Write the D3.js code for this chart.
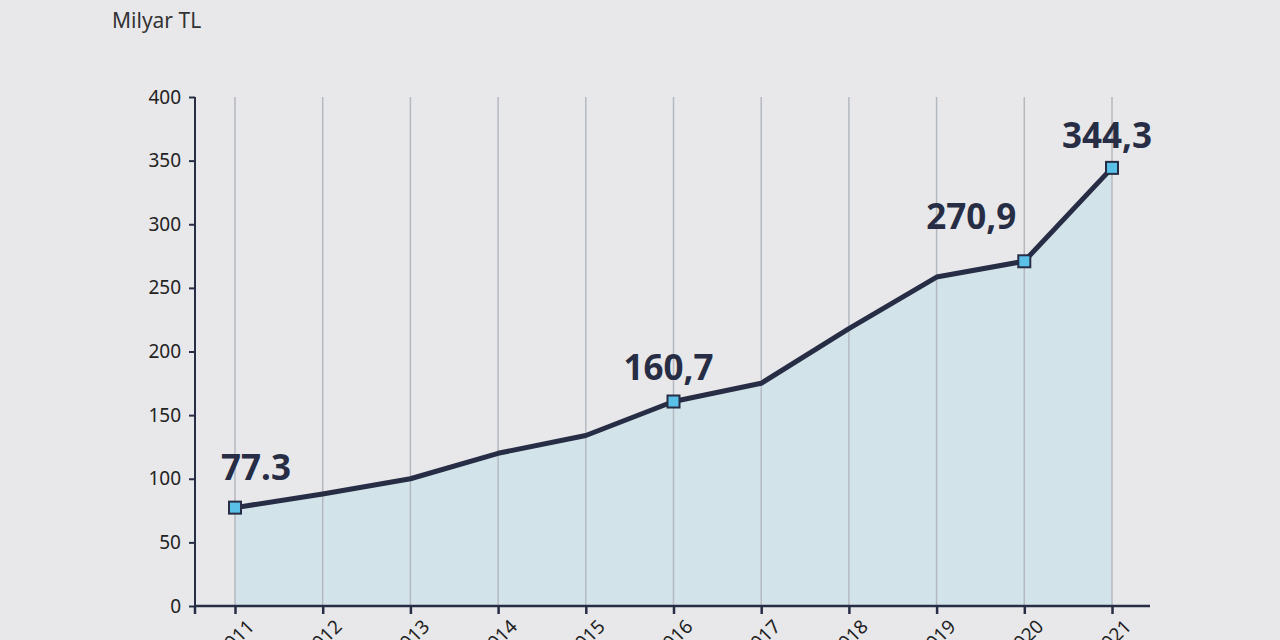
<!DOCTYPE html>
<html><head><meta charset="utf-8">
<script src="https://cdn.jsdelivr.net/npm/d3@7"></script>
<style>body{margin:0;background:#e8e8ea;font-family:"Noto Sans",sans-serif;}</style>
</head><body>
<script>
var years = ["2011","2012","2013","2014","2015","2016","2017","2018","2019","2020","2021"];
var values = [77.3,88,100,120,134,160.7,175,218,258.5,270.9,344.3];
var labelIdx = [0,5,9,10];
var labelText = ["77.3","160,7","270,9","344,3"];
var yTicks = [0,50,100,150,200,250,300,350,400];

var width = 1280, height = 640, dark = "#262d45";
var labelDx = [21,-5,-53,-5], labelDy = [-28,-22,-32,-20];
var svg = d3.select("body").append("svg").attr("width",width).attr("height",height);
svg.append("rect").attr("width",width).attr("height",height).attr("fill","#e8e8ea");

var x = d3.scalePoint().domain(years).range([235,1112]);
var y = d3.scaleLinear().domain([0,400]).range([606,97]);

svg.append("text").attr("x",112).attr("y",28).attr("font-size",21).attr("fill","#333")
	.text("Milyar TL");

var area = d3.area().x((d,i)=>x(years[i])).y0(y(0)).y1(d=>y(d));
svg.append("path").datum(values).attr("d",area).attr("fill","#d3e3ea");

// grid
svg.selectAll(".grid").data(years).enter().append("line")
	.attr("x1",d=>x(d)).attr("x2",d=>x(d)).attr("y1",y(400)).attr("y2",y(0))
	.attr("stroke","#b4b9c0").attr("stroke-width",1.5);

var line = d3.line().x((d,i)=>x(years[i])).y(d=>y(d));
svg.append("path").datum(values).attr("d",line).attr("fill","none")
	.attr("stroke",dark).attr("stroke-width",5).attr("stroke-linejoin","round");

// y axis
var ya = svg.append("g").attr("transform","translate(195,0)")
	.call(d3.axisLeft(y).tickValues(yTicks).tickSize(6).tickPadding(8));
ya.selectAll("text").attr("font-size",19).attr("fill","#222").attr("font-family","Noto Sans");
ya.selectAll("line,path").attr("stroke",dark).attr("stroke-width",2);
ya.select(".domain").attr("d","M0,"+y(400)+"V"+y(0));

// x axis
var xa = svg.append("g").attr("transform","translate(0,"+y(0)+")")
	.call(d3.axisBottom(x).tickSize(8).tickSizeOuter(0));
xa.select(".domain").attr("d","M195,0H1150");
xa.selectAll("line,path").attr("stroke",dark).attr("stroke-width",2.5);
xa.append("line").attr("x1",195).attr("x2",195).attr("y1",0).attr("y2",8).attr("stroke",dark).attr("stroke-width",2.5);
xa.selectAll(".tick text").attr("font-size",19).attr("fill","#222").attr("font-family","Noto Sans")
	.attr("text-anchor","end").attr("dx","0.6em").attr("dy","0.3em")
	.attr("transform","translate(0,18) rotate(-45)");

// markers
svg.selectAll(".m").data(labelIdx).enter().append("rect")
	.attr("x",i=>x(years[i])-6).attr("y",i=>y(values[i])-6)
	.attr("width",12).attr("height",12).attr("fill","#5bc0e8")
	.attr("stroke",dark).attr("stroke-width",2);

svg.selectAll(".lbl").data(labelIdx).enter().append("text")
	.attr("x",(i,k)=>x(years[i])+labelDx[k])
	.attr("y",(i,k)=>y(values[i])+labelDy[k])
	.attr("text-anchor","middle").attr("font-size",35).attr("font-weight","bold")
	.attr("fill",dark).attr("font-family","Noto Sans")
	.text((d,k)=>labelText[k]);
</script>
</body></html>
